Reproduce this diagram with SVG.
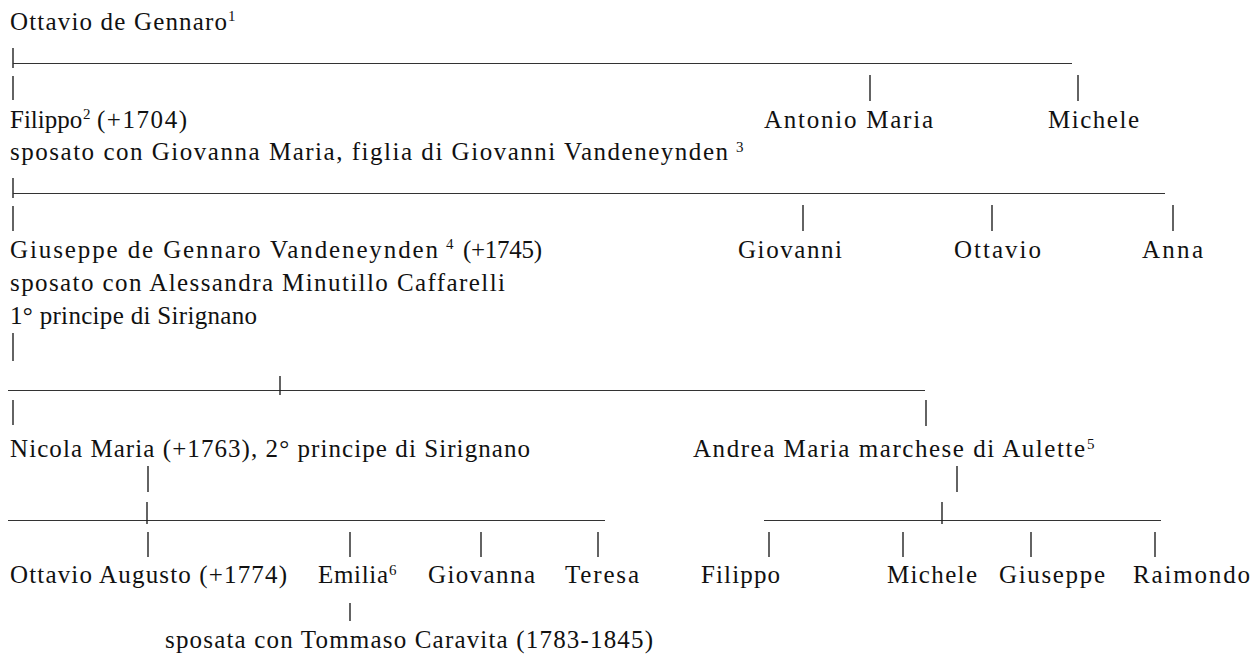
<svg xmlns="http://www.w3.org/2000/svg" width="1260" height="655" viewBox="0 0 1260 655">
<style>
text{font-family:"Liberation Serif","Times New Roman",serif;font-size:25px;fill:#111}
text.sup{font-size:15px}
.c line{stroke:#222;stroke-width:1.4}
.c line.u{stroke:#333;stroke-width:1.2}
</style>
<rect width="1260" height="655" fill="#fff"/>
<g class="c" id="connectors">
<line x1="13" y1="48" x2="13" y2="68"/>
<line class="u" x1="13" y1="63.5" x2="1072" y2="63.5"/>
<line x1="13" y1="76" x2="13" y2="100"/>
<line x1="870" y1="75" x2="870" y2="101"/>
<line x1="1078" y1="75" x2="1078" y2="101"/>
<line x1="13" y1="178" x2="13" y2="198"/>
<line class="u" x1="13" y1="193.5" x2="1165" y2="193.5"/>
<line x1="13" y1="206" x2="13" y2="231"/>
<line x1="803" y1="205" x2="803" y2="231"/>
<line x1="992" y1="205" x2="992" y2="231"/>
<line x1="1173" y1="205" x2="1173" y2="231"/>
<line x1="13" y1="333" x2="13" y2="361"/>
<line class="u" x1="8" y1="390.5" x2="925" y2="390.5"/>
<line x1="280" y1="376" x2="280" y2="395"/>
<line x1="13" y1="400" x2="13" y2="425"/>
<line x1="926" y1="400" x2="926" y2="426"/>
<line x1="148" y1="466" x2="148" y2="492"/>
<line x1="957" y1="466" x2="957" y2="492"/>
<line class="u" x1="8" y1="520.5" x2="605" y2="520.5"/>
<line x1="147" y1="502" x2="147" y2="524"/>
<line class="u" x1="764" y1="520.5" x2="1161" y2="520.5"/>
<line x1="942" y1="502" x2="942" y2="524"/>
<line x1="148" y1="532" x2="148" y2="557"/>
<line x1="350" y1="532" x2="350" y2="557"/>
<line x1="481" y1="532" x2="481" y2="557"/>
<line x1="598" y1="532" x2="598" y2="557"/>
<line x1="769" y1="532" x2="769" y2="557"/>
<line x1="903" y1="532" x2="903" y2="557"/>
<line x1="1031" y1="532" x2="1031" y2="557"/>
<line x1="1155" y1="532" x2="1155" y2="557"/>
<line x1="350" y1="603" x2="350" y2="621"/>
</g>
<g id="ottavio-de-gennaro">
<text x="10" y="30" textLength="217" lengthAdjust="spacing">Ottavio de Gennaro</text>
<text class="sup" x="228" y="21">1</text>
</g>
<g id="filippo">
<text x="10" y="128">Filippo</text>
<text class="sup" x="83" y="119">2</text>
<text x="97" y="128" textLength="90" lengthAdjust="spacing">(+1704)</text>
<text x="10" y="160" textLength="718" lengthAdjust="spacing">sposato con Giovanna Maria, figlia di Giovanni Vandeneynden</text>
<text class="sup" x="736" y="152">3</text>
</g>
<g id="antonio-maria"><text x="764" y="128" textLength="169" lengthAdjust="spacing">Antonio Maria</text></g>
<g id="michele-1"><text x="1048" y="128" textLength="91" lengthAdjust="spacing">Michele</text></g>
<g id="giuseppe">
<text x="10" y="258" textLength="428" lengthAdjust="spacing">Giuseppe de Gennaro Vandeneynden</text>
<text class="sup" x="446" y="249">4</text>
<text x="463" y="258" textLength="79" lengthAdjust="spacing">(+1745)</text>
<text x="10" y="291" textLength="495" lengthAdjust="spacing">sposato con Alessandra Minutillo Caffarelli</text>
<text x="10" y="324" textLength="247" lengthAdjust="spacing">1° principe di Sirignano</text>
</g>
<g id="giovanni"><text x="738" y="258" textLength="104" lengthAdjust="spacing">Giovanni</text></g>
<g id="ottavio-2"><text x="954" y="258" textLength="87" lengthAdjust="spacing">Ottavio</text></g>
<g id="anna"><text x="1142" y="258" textLength="61" lengthAdjust="spacing">Anna</text></g>
<g id="nicola-maria"><text x="10" y="457" textLength="520" lengthAdjust="spacing">Nicola Maria (+1763), 2° principe di Sirignano</text></g>
<g id="andrea-maria">
<text x="693" y="457" textLength="392" lengthAdjust="spacing">Andrea Maria marchese di Aulette</text>
<text class="sup" x="1087" y="449">5</text>
</g>
<g id="ottavio-augusto"><text x="10" y="583" textLength="277" lengthAdjust="spacing">Ottavio Augusto (+1774)</text></g>
<g id="emilia">
<text x="318" y="583" textLength="70" lengthAdjust="spacing">Emilia</text>
<text class="sup" x="389" y="575">6</text>
<text x="165" y="648" textLength="488" lengthAdjust="spacing">sposata con Tommaso Caravita (1783-1845)</text>
</g>
<g id="giovanna"><text x="428" y="583" textLength="107" lengthAdjust="spacing">Giovanna</text></g>
<g id="teresa"><text x="565" y="583" textLength="74" lengthAdjust="spacing">Teresa</text></g>
<g id="filippo-2"><text x="701" y="583" textLength="79" lengthAdjust="spacing">Filippo</text></g>
<g id="michele-2"><text x="887" y="583" textLength="90" lengthAdjust="spacing">Michele</text></g>
<g id="giuseppe-2"><text x="999" y="583" textLength="106" lengthAdjust="spacing">Giuseppe</text></g>
<g id="raimondo"><text x="1133" y="583" textLength="117" lengthAdjust="spacing">Raimondo</text></g>
</svg>
